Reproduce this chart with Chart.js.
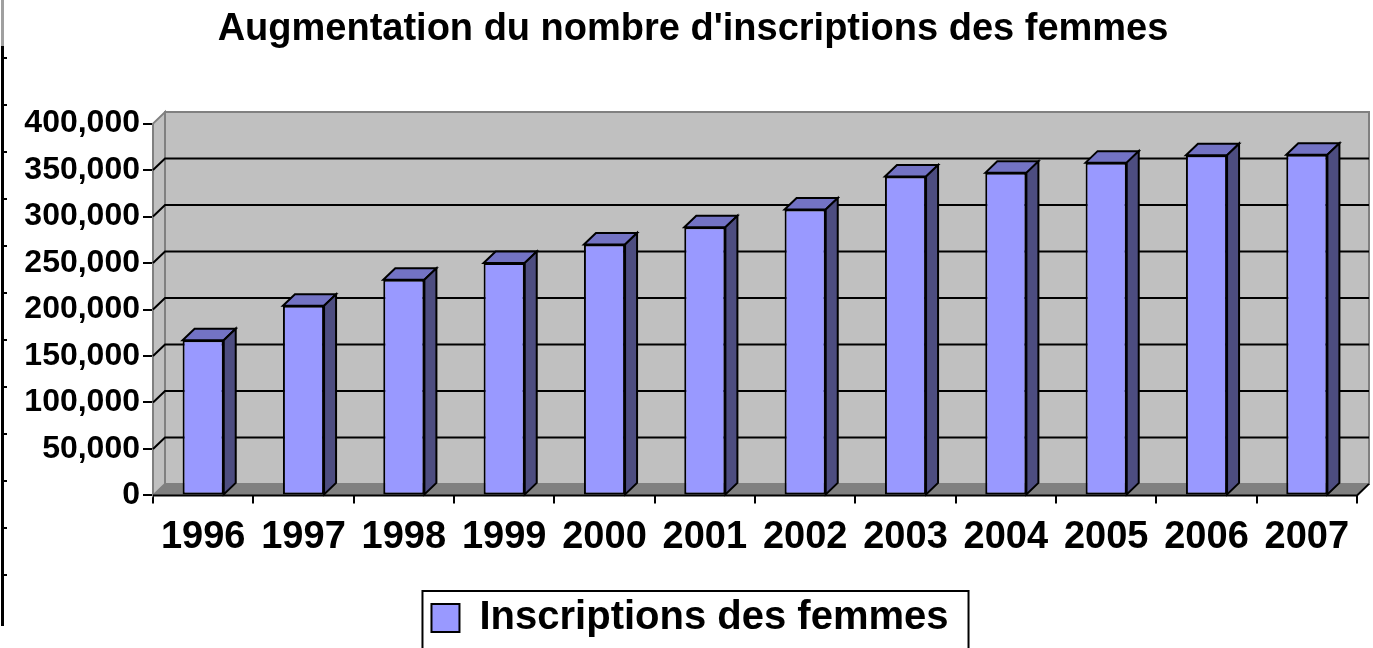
<!DOCTYPE html>
<html>
<head>
<meta charset="utf-8">
<script src="https://cdn.jsdelivr.net/npm/chart.js@4.4.1/dist/chart.umd.min.js"></script>
<style>
  html, body { margin: 0; padding: 0; background: #fff; }
  canvas { display: block; }
</style>
</head>
<body>
<canvas id="chart" width="1373" height="648"></canvas>
<script>
const years = ['1996', '1997', '1998', '1999', '2000', '2001', '2002', '2003', '2004', '2005', '2006', '2007'];
const inscriptions = [167000, 204000, 232000, 250000, 270000, 288500, 307500, 343000, 347000, 358000, 366000, 366500];
const yMax = 400000;
const yStep = 50000;
const seriesLabel = 'Inscriptions des femmes';
const chartTitle = "Augmentation du nombre d'inscriptions des femmes";

// depth of the fake 3D box
const DX = 12, DY = -11.5;

function poly(ctx, pts, fill, stroke) {
  ctx.beginPath();
  ctx.moveTo(pts[0][0], pts[0][1]);
  for (let i = 1; i < pts.length; i++) ctx.lineTo(pts[i][0], pts[i][1]);
  ctx.closePath();
  if (fill) { ctx.fillStyle = fill; ctx.fill(); }
  if (stroke) { ctx.strokeStyle = stroke; ctx.stroke(); }
}

const box3d = {
  id: 'box3d',
  afterLayout(chart) {
    // title and legend sit a bit right of the canvas centre
    const t = chart.titleBlock;
    if (t) { t.left += 7; t.right += 7; }
    const lg = chart.legend;
    if (lg) { lg.left += 4; lg.right += 4; }
  },
  beforeDraw(chart) {
    const ctx = chart.ctx;
    // spreadsheet cell border left over at the left edge
    ctx.save();
    ctx.lineWidth = 3;
    ctx.strokeStyle = '#a0a0a0';
    ctx.beginPath();
    ctx.moveTo(2.5, 0);
    ctx.lineTo(2.5, 46);
    ctx.stroke();
    ctx.strokeStyle = '#000';
    ctx.beginPath();
    ctx.moveTo(2.5, 46);
    ctx.lineTo(2.5, 626);
    ctx.stroke();
    ctx.lineWidth = 2;
    for (let ty = 58; ty < 620; ty += 47) {
      ctx.beginPath();
      ctx.moveTo(3, ty);
      ctx.lineTo(7, ty);
      ctx.stroke();
    }
    ctx.restore();
  },
  beforeDatasetsDraw(chart) {
    const { ctx, chartArea: a, scales: { y } } = chart;
    ctx.save();
    ctx.lineWidth = 2;
    ctx.lineJoin = 'miter';
    // back wall
    poly(ctx, [[a.left + DX, a.top + DY], [a.right + DX, a.top + DY], [a.right + DX, a.bottom + DY], [a.left + DX, a.bottom + DY]], '#c0c0c0', '#808080');
    // side wall
    poly(ctx, [[a.left, a.top], [a.left + DX, a.top + DY], [a.left + DX, a.bottom + DY], [a.left, a.bottom]], '#c0c0c0', '#808080');
    // floor
    poly(ctx, [[a.left, a.bottom], [a.right, a.bottom], [a.right + DX, a.bottom + DY], [a.left + DX, a.bottom + DY]], '#808080', null);
    // gridlines on the back wall + side wall
    ctx.strokeStyle = '#000';
    for (let v = yStep; v < yMax; v += yStep) {
      const py = y.getPixelForValue(v);
      ctx.beginPath();
      ctx.moveTo(a.left, py);
      ctx.lineTo(a.left + DX, py + DY);
      ctx.lineTo(a.right + DX, py + DY);
      ctx.stroke();
    }
    // floor front edge and right corner
    ctx.beginPath();
    ctx.moveTo(a.left, a.bottom);
    ctx.lineTo(a.right, a.bottom);
    ctx.lineTo(a.right + DX, a.bottom + DY);
    ctx.stroke();
    ctx.restore();
  },
  afterDatasetsDraw(chart) {
    const ctx = chart.ctx;
    const meta = chart.getDatasetMeta(0);
    ctx.save();
    ctx.lineWidth = 2;
    ctx.lineJoin = 'miter';
    meta.data.forEach(bar => {
      const p = bar.getProps(['x', 'y', 'base', 'width'], true);
      const l = p.x - p.width / 2, r = p.x + p.width / 2;
      poly(ctx, [[l, p.y], [l + DX, p.y + DY], [r + DX, p.y + DY], [r, p.y]], '#7373c4', '#000');
      poly(ctx, [[r, p.y], [r + DX, p.y + DY], [r + DX, p.base + DY], [r, p.base]], '#4d4d80', '#000');
    });
    ctx.restore();
  },
  afterDraw(chart) {
    // frame round the legend
    const lg = chart.legend;
    if (!lg || !lg.legendHitBoxes.length) return;
    const hb = lg.legendHitBoxes[0];
    const cx = (lg.left + lg.right) / 2;
    const ctx = chart.ctx;
    ctx.save();
    ctx.strokeStyle = '#000';
    ctx.lineWidth = 2;
    ctx.strokeRect(cx - hb.width / 2 - 9, hb.top - 7, hb.width + 29, 120);
    ctx.restore();
  }
};

Chart.defaults.color = '#000';
Chart.defaults.font.family = '"Liberation Sans", Arial, sans-serif';
Chart.defaults.font.weight = 'bold';

new Chart(document.getElementById('chart'), {
  type: 'bar',
  data: {
    labels: years,
    datasets: [{
      label: seriesLabel,
      data: inscriptions,
      backgroundColor: '#9999ff',
      borderColor: '#000',
      borderWidth: 2,
      borderSkipped: false,
      barPercentage: 0.41,
      categoryPercentage: 1
    }]
  },
  options: {
    responsive: false,
    animation: false,
    devicePixelRatio: 1,
    layout: { padding: { left: 15, right: 16, top: 0, bottom: 0 } },
    scales: {
      x: {
        afterFit(s) { s.height += 21; },
        grid: { display: true, drawOnChartArea: false, color: '#000', lineWidth: 2, tickLength: 8, offset: true },
        border: { display: true, color: '#000', width: 2 },
        ticks: { font: { size: 38, weight: 'bold' }, padding: 11, maxRotation: 0, autoSkip: false }
      },
      y: {
        min: 0,
        max: yMax,
        afterFit(s) { s.width = 138; },
        grid: { display: true, drawOnChartArea: false, color: '#000', lineWidth: 2, tickLength: 10 },
        border: { display: true, color: '#000', width: 2 },
        ticks: {
          stepSize: yStep,
          font: { size: 32, weight: 'bold' },
          padding: 3,
          callback: v => v.toLocaleString('en-US')
        }
      }
    },
    plugins: {
      title: {
        display: true,
        text: chartTitle,
        font: { size: 38, weight: 'bold' },
        padding: { top: 7, bottom: 71 }
      },
      legend: {
        position: 'bottom',
        labels: { font: { size: 40, weight: 'bold' }, boxWidth: 28, boxHeight: 28, padding: 6 }
      },
      tooltip: { enabled: false }
    }
  },
  plugins: [box3d]
});
</script>
</body>
</html>
